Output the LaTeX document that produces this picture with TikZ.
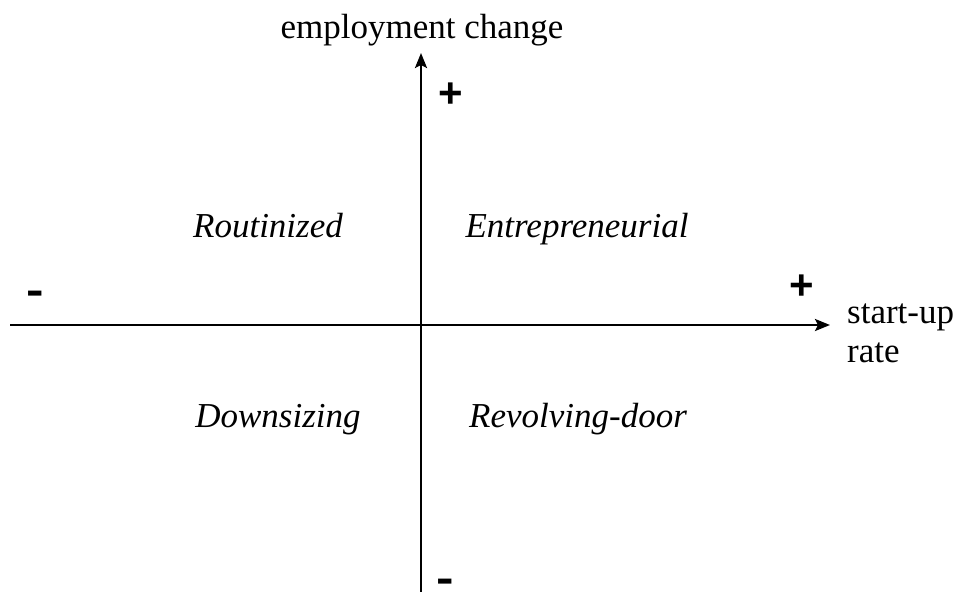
\documentclass[tikz,border=0pt]{standalone}
\usepackage{fontspec}
\setmainfont{Liberation Serif}
\newfontfamily\signfont{Liberation Sans}
\usetikzlibrary{arrows.meta}

\begin{document}
\begin{tikzpicture}[x=1pt, y=-1pt,
    axislabel/.style={font=\fontsize{35}{39}\selectfont, anchor=base, inner sep=0pt},
    quad/.style={font=\fontsize{35}{39}\selectfont\itshape, anchor=base, inner sep=0pt},
    sign/.style={font=\fontsize{42}{44}\selectfont\signfont\bfseries, anchor=base, inner sep=0pt}]
    \useasboundingbox (0,0) rectangle (959,592);
    % axes
    \coordinate (xl) at (10,325);
    \coordinate (xr) at (830,325);
    \coordinate (yb) at (421,592);
    \coordinate (yt) at (421,53);
    \draw [-{Stealth[length=15pt, width=12pt, inset=3pt]}, line width=2.4pt] (xl) -- (xr);
    \draw [-{Stealth[length=15pt, width=12pt, inset=3pt]}, line width=2.4pt] (yb) -- (yt);
    % axis labels
    \node (emp) [axislabel] at (422,38) {employment change};
    \node (startup) [axislabel, anchor=base west] at (847,323) {start-up};
    \node (rate) [axislabel, anchor=base west] at (847,362) {rate};
    % signs
    \node (ypos) [sign] at (451,107) {+};
    \node (yneg) [sign] at (445,592) {\scalebox{1.25}[1]{-}};
    \node (xpos) [sign] at (802,299) {+};
    \node (xneg) [sign] at (35,304) {\scalebox{1.25}[1]{-}};
    % quadrants
    \node (rout) [quad] at (268,237) {Routinized};
    \node (entr) [quad] at (577,237) {Entrepreneurial};
    \node (down) [quad] at (278,427) {Downsizing};
    \node (revo) [quad] at (578,427) {Revolving-door};
\end{tikzpicture}
\end{document}
